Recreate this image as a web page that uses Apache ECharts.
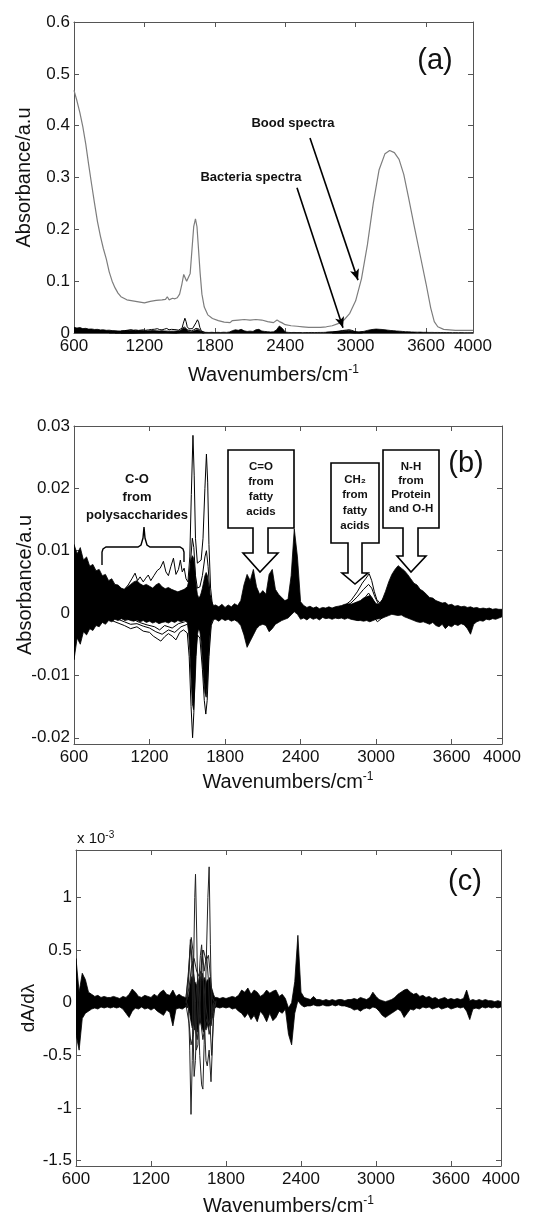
<!DOCTYPE html>
<html>
<head>
<meta charset="utf-8">
<title>FTIR spectra of blood and bacteria</title>
<script src="https://cdn.jsdelivr.net/npm/echarts@6.0.0/dist/echarts.min.js"></script>
<style>
  html, body { margin: 0; padding: 0; background: #fff; }
  #chart { width: 542px; height: 1220px; }
</style>
</head>
<body>
<div id="chart"></div>
<script>
// sampling grid (cm-1) shared by the bacteria envelopes of panels a, b and c
const wavenumbers = [
  600, 625, 650, 675, 700, 725, 750, 775, 800, 825,
  850, 875, 900, 925, 950, 975, 1000, 1025, 1050, 1075,
  1100, 1125, 1150, 1175, 1200, 1225, 1250, 1275, 1300, 1325,
  1350, 1375, 1400, 1425, 1450, 1475, 1500,
  1510, 1520, 1530, 1540, 1550, 1560, 1570, 1580, 1590, 1600,
  1610, 1620, 1630, 1640, 1650, 1660, 1670, 1680, 1690, 1700, 1710,
  1725, 1750, 1775, 1800, 1825, 1850, 1875, 1900, 1925, 1950,
  1975, 2000, 2025, 2050, 2075, 2100, 2125, 2150, 2175, 2200,
  2225, 2250, 2275, 2300, 2325, 2350, 2375, 2400, 2425, 2450,
  2475, 2500, 2525, 2550, 2575, 2600, 2625, 2650, 2675, 2700,
  2725, 2750, 2775, 2800, 2825, 2850, 2875, 2900, 2925, 2950,
  2975, 3000, 3025, 3050, 3075, 3100, 3125, 3150, 3175, 3200,
  3225, 3250, 3275, 3300, 3325, 3350, 3375, 3400, 3425, 3450,
  3475, 3500, 3525, 3550, 3575, 3600, 3625, 3650, 3675, 3700,
  3725, 3750, 3775, 3800, 3825, 3850, 3875, 3900, 3925, 3950,
  3975, 4000
];

// bacteria spectra: upper / lower edge of the dense bundle (absorbance)
const bactHigh = [
  0.0110, 0.0095, 0.0105, 0.0085, 0.0090, 0.0075, 0.0078, 0.0068, 0.0070, 0.0060,
  0.0062, 0.0052, 0.0055, 0.0046, 0.0045, 0.0040, 0.0038, 0.0042, 0.0046, 0.0050,
  0.0052, 0.0047, 0.0044, 0.0046, 0.0043, 0.0040, 0.0045, 0.0048, 0.0042, 0.0039,
  0.0041, 0.0038, 0.0036, 0.0034, 0.0036, 0.0038, 0.0042,
  0.0050, 0.0068, 0.0085, 0.0092, 0.0088, 0.0070, 0.0045, 0.0030, 0.0025, 0.0026,
  0.0032, 0.0040, 0.0050, 0.0060, 0.0065, 0.0060, 0.0045, 0.0030, 0.0020, 0.0015, 0.0012,
  0.0013, 0.0010, 0.0014, 0.0009, 0.0013, 0.0010, 0.0015, 0.0012, 0.0020, 0.0045,
  0.0062, 0.0052, 0.0070, 0.0042, 0.0030, 0.0036, 0.0030, 0.0062, 0.0070, 0.0038,
  0.0030, 0.0025, 0.0020, 0.0022, 0.0060, 0.0135, 0.0090, 0.0018, 0.0012, 0.0009,
  0.0011, 0.0008, 0.0010, 0.0007, 0.0009, 0.0008, 0.0010, 0.0008, 0.0010, 0.0011,
  0.0012, 0.0014, 0.0015, 0.0014, 0.0016, 0.0018, 0.0020, 0.0024, 0.0026, 0.0028,
  0.0022, 0.0015, 0.0014, 0.0022, 0.0035, 0.0050, 0.0062, 0.0070, 0.0076, 0.0072,
  0.0068, 0.0062, 0.0055, 0.0048, 0.0045, 0.0038, 0.0035, 0.0030, 0.0025, 0.0024,
  0.0020, 0.0018, 0.0016, 0.0017, 0.0013, 0.0014, 0.0011, 0.0012, 0.0010, 0.0011,
  0.0009, 0.0010, 0.0008, 0.0009, 0.0007, 0.0008, 0.0007, 0.0008, 0.0006, 0.0007,
  0.0006, 0.0006
];
const bactLow = [
  -0.0075, -0.0040, -0.0050, -0.0030, -0.0035, -0.0025, -0.0028, -0.0020, -0.0022, -0.0015,
  -0.0018, -0.0012, -0.0014, -0.0010, -0.0012, -0.0009, -0.0011, -0.0010, -0.0012, -0.0013,
  -0.0011, -0.0014, -0.0012, -0.0015, -0.0013, -0.0016, -0.0014, -0.0017, -0.0015, -0.0014,
  -0.0016, -0.0013, -0.0015, -0.0012, -0.0014, -0.0012, -0.0015,
  -0.0030, -0.0060, -0.0105, -0.0145, -0.0155, -0.0120, -0.0070, -0.0035, -0.0025, -0.0030,
  -0.0045, -0.0075, -0.0105, -0.0128, -0.0135, -0.0112, -0.0070, -0.0035, -0.0018, -0.0012, -0.0010,
  -0.0010, -0.0013, -0.0009, -0.0012, -0.0010, -0.0013, -0.0011, -0.0014, -0.0020, -0.0035,
  -0.0055, -0.0045, -0.0035, -0.0025, -0.0020, -0.0018, -0.0020, -0.0030, -0.0025, -0.0018,
  -0.0015, -0.0012, -0.0010, -0.0008, -0.0003, 0.0002, -0.0002, -0.0010, -0.0008, -0.0011,
  -0.0007, -0.0010, -0.0008, -0.0011, -0.0007, -0.0009, -0.0008, -0.0010, -0.0008, -0.0009,
  -0.0008, -0.0010, -0.0008, -0.0010, -0.0011, -0.0012, -0.0012, -0.0013, -0.0012, -0.0014,
  -0.0012, -0.0010, -0.0009, -0.0008, -0.0006, -0.0004, -0.0002, -0.0003, -0.0004, -0.0003,
  -0.0006, -0.0008, -0.0010, -0.0012, -0.0014, -0.0015, -0.0014, -0.0016, -0.0018, -0.0015,
  -0.0020, -0.0022, -0.0018, -0.0025, -0.0020, -0.0022, -0.0018, -0.0020, -0.0017, -0.0019,
  -0.0025, -0.0034, -0.0018, -0.0014, -0.0012, -0.0013, -0.0010, -0.0011, -0.0009, -0.0010,
  -0.0008, -0.0006
];

// single spectra that leave the bundle
const sacchTrace = [
  [1000, 0.0038], [1030, 0.0045], [1060, 0.0055], [1085, 0.0064], [1105, 0.0052], [1125, 0.0058],
  [1150, 0.0050], [1170, 0.0056], [1190, 0.0061], [1210, 0.0052], [1235, 0.0060], [1260, 0.0068],
  [1285, 0.0072], [1310, 0.0083], [1330, 0.0066], [1350, 0.0060], [1370, 0.0075], [1390, 0.0088],
  [1410, 0.0062], [1430, 0.0070], [1445, 0.0085], [1460, 0.0066], [1475, 0.0072], [1490, 0.0055],
  [1505, 0.0050], [1520, 0.0090], [1532, 0.0190], [1545, 0.0285], [1555, 0.0220], [1565, 0.0120],
  [1580, 0.0080], [1595, 0.0078], [1610, 0.0085], [1625, 0.0120], [1640, 0.0200], [1652, 0.0255],
  [1662, 0.0210], [1672, 0.0110], [1685, 0.0040], [1700, 0.0012], [1720, 0.0008]
];
const amideTrace = [
  [1490, 0.0030], [1510, 0.0040], [1525, 0.0080], [1540, 0.0120], [1552, 0.0105], [1565, 0.0060],
  [1580, 0.0040], [1600, 0.0042], [1620, 0.0060], [1640, 0.0090], [1652, 0.0100], [1665, 0.0075],
  [1680, 0.0030], [1700, 0.0012]
];
const lowTraceA = [
  [900, -0.0012], [950, -0.0016], [1000, -0.0020], [1050, -0.0025], [1100, -0.0022], [1150, -0.0029],
  [1200, -0.0031], [1230, -0.0037], [1260, -0.0041], [1290, -0.0045], [1320, -0.0038], [1350, -0.0033],
  [1380, -0.0037], [1410, -0.0043], [1440, -0.0031], [1470, -0.0027], [1500, -0.0032], [1515, -0.0070],
  [1530, -0.0150], [1542, -0.0200], [1552, -0.0160], [1565, -0.0070], [1580, -0.0035], [1600, -0.0040],
  [1620, -0.0090], [1635, -0.0140], [1647, -0.0162], [1658, -0.0140], [1672, -0.0070], [1690, -0.0020],
  [1710, -0.0010]
];
const lowTraceB = [
  [950, -0.0010], [1000, -0.0014], [1050, -0.0018], [1100, -0.0017], [1150, -0.0021], [1200, -0.0024],
  [1250, -0.0030], [1300, -0.0034], [1350, -0.0027], [1400, -0.0031], [1450, -0.0022], [1500, -0.0018]
];
const lowTraceC = [
  [1000, -0.0012], [1060, -0.0009], [1120, -0.0015], [1180, -0.0019], [1240, -0.0022], [1280, -0.0027],
  [1320, -0.0020], [1380, -0.0024], [1430, -0.0017], [1480, -0.0014]
];
const ch2TraceA = [
  [2750, 0.0012], [2800, 0.0020], [2850, 0.0034], [2890, 0.0048], [2920, 0.0056], [2945, 0.0063],
  [2965, 0.0052], [2985, 0.0035], [3005, 0.0022], [3030, 0.0016], [3060, 0.0024]
];
const ch2TraceB = [
  [2750, 0.0010], [2800, 0.0016], [2850, 0.0026], [2900, 0.0038], [2940, 0.0046], [2965, 0.0040],
  [2990, 0.0026], [3020, 0.0014], [3060, 0.0018]
];
const ch2TraceC = [
  [2780, 0.0006], [2840, 0.0012], [2900, 0.0022], [2940, 0.0032], [2970, 0.0024], [3000, 0.0008], [3040, 0.0008]
];
const ch2TraceD = [
  [2800, -0.0008], [2860, -0.0012], [2910, -0.0002], [2950, 0.0008], [2980, -0.0006], [3010, -0.0014], [3060, -0.0006]
];

// blood spectrum (panel a)
const bloodSpectrum = [
  [600, 0.468], [625, 0.448], [650, 0.425], [675, 0.398], [700, 0.365], [725, 0.325], [750, 0.287],
  [775, 0.250], [800, 0.215], [825, 0.187], [850, 0.163], [875, 0.143], [900, 0.118], [925, 0.100],
  [950, 0.087], [975, 0.077], [1000, 0.070], [1050, 0.064], [1100, 0.062], [1150, 0.060], [1200, 0.058],
  [1250, 0.061], [1300, 0.063], [1350, 0.064], [1380, 0.065], [1395, 0.070], [1410, 0.064], [1440, 0.067],
  [1460, 0.066], [1480, 0.068], [1500, 0.075], [1520, 0.095], [1535, 0.113], [1545, 0.115], [1560, 0.100],
  [1575, 0.098], [1590, 0.115], [1605, 0.160], [1620, 0.205], [1635, 0.220], [1648, 0.205], [1660, 0.165],
  [1675, 0.115], [1690, 0.075], [1710, 0.050], [1740, 0.035], [1780, 0.028], [1830, 0.024], [1880, 0.021],
  [1930, 0.020], [1950, 0.024], [2000, 0.025], [2050, 0.026], [2100, 0.025], [2150, 0.026], [2200, 0.025],
  [2250, 0.022], [2300, 0.020], [2330, 0.025], [2350, 0.022], [2370, 0.020], [2400, 0.016], [2450, 0.014],
  [2500, 0.013], [2550, 0.012], [2600, 0.011], [2650, 0.011], [2700, 0.011], [2750, 0.012], [2800, 0.014],
  [2850, 0.018], [2900, 0.025], [2950, 0.038], [3000, 0.062], [3050, 0.105], [3100, 0.170], [3150, 0.250],
  [3200, 0.315], [3250, 0.346], [3290, 0.352], [3330, 0.348], [3370, 0.335], [3410, 0.306], [3450, 0.262],
  [3500, 0.205], [3550, 0.150], [3600, 0.095], [3640, 0.048], [3670, 0.022], [3700, 0.012], [3750, 0.007],
  [3800, 0.006], [3850, 0.005], [3900, 0.005], [3950, 0.005], [4000, 0.005]
];

// first derivative (x 10^-3): bundle edges on the same grid
const derivHigh = [
  0.42, 0.10, 0.28, 0.22, 0.10, 0.08, 0.06, 0.07, 0.05, 0.06,
  0.05, 0.05, 0.06, 0.05, 0.04, 0.06, 0.05, 0.08, 0.13, 0.10,
  0.06, 0.05, 0.07, 0.06, 0.05, 0.08, 0.06, 0.10, 0.12, 0.08,
  0.07, 0.12, 0.06, 0.08, 0.06, 0.05, 0.06,
  0.15, 0.25, 0.22, 0.28, 0.20, 0.18, 0.15, 0.20, 0.25, 0.22,
  0.28, 0.20, 0.24, 0.18, 0.22, 0.20, 0.24, 0.16, 0.12, 0.08, 0.05,
  0.05, 0.04, 0.05, 0.04, 0.05, 0.06, 0.05, 0.07, 0.12, 0.10,
  0.14, 0.08, 0.12, 0.10, 0.06, 0.08, 0.12, 0.09, 0.11, 0.12,
  0.06, 0.08, 0.04, -0.05, 0.00, 0.20, 0.64, 0.10, 0.05, 0.04,
  0.03, 0.06, 0.03, 0.03, 0.02, 0.03, 0.02, 0.03, 0.02, 0.03,
  0.03, 0.02, 0.03, 0.03, 0.04, 0.03, 0.05, 0.04, 0.03, 0.05,
  0.10, 0.06, 0.03, 0.02, 0.01, 0.02, 0.03, 0.05, 0.08, 0.10,
  0.12, 0.13, 0.10, 0.08, 0.09, 0.06, 0.07, 0.05, 0.06, 0.04,
  0.05, 0.03, 0.04, 0.05, 0.03, 0.04, 0.03, 0.04, 0.03, 0.04,
  0.12, 0.02, 0.03, 0.02, 0.03, 0.02, 0.03, 0.02, 0.02, 0.01,
  0.02, 0.01
];
const derivLow = [
  -0.30, -0.45, -0.15, -0.10, -0.08, -0.06, -0.05, -0.06, -0.04, -0.05,
  -0.04, -0.05, -0.04, -0.05, -0.04, -0.06, -0.10, -0.14, -0.08, -0.05,
  -0.06, -0.04, -0.06, -0.05, -0.07, -0.05, -0.08, -0.10, -0.12, -0.07,
  -0.09, -0.22, -0.06, -0.05, -0.06, -0.04, -0.05,
  -0.10, -0.18, -0.24, -0.20, -0.26, -0.20, -0.28, -0.22, -0.18, -0.20,
  -0.24, -0.28, -0.22, -0.26, -0.20, -0.25, -0.20, -0.22, -0.15, -0.08, -0.05,
  -0.04, -0.05, -0.04, -0.05, -0.04, -0.06, -0.05, -0.08, -0.10, -0.14,
  -0.10, -0.16, -0.12, -0.18, -0.08, -0.12, -0.18, -0.10, -0.17, -0.14,
  -0.08, -0.10, -0.06, -0.30, -0.40, -0.10, 0.02, -0.02, -0.04, -0.03,
  -0.03, -0.02, -0.03, -0.03, -0.02, -0.03, -0.03, -0.02, -0.03, -0.02,
  -0.03, -0.03, -0.04, -0.05, -0.07, -0.06, -0.08, -0.06, -0.05, -0.06,
  -0.04, -0.05, -0.08, -0.12, -0.14, -0.12, -0.10, -0.08, -0.06, -0.08,
  -0.14, -0.10, -0.06, -0.07, -0.05, -0.06, -0.04, -0.05, -0.04, -0.06,
  -0.05, -0.04, -0.06, -0.05, -0.04, -0.06, -0.05, -0.04, -0.05, -0.04,
  -0.08, -0.16, -0.06, -0.05, -0.06, -0.04, -0.05, -0.04, -0.05, -0.04,
  -0.05, -0.04
];
const swingA = [
  [1480, 0.02], [1500, -0.05], [1510, -0.45], [1520, -1.06], [1530, -0.55], [1540, 0.30], [1550, 1.00],
  [1556, 1.22], [1565, 0.70], [1575, 0.00], [1590, -0.50], [1605, -0.78], [1615, -0.82], [1625, -0.40],
  [1640, 0.30], [1655, 1.00], [1665, 1.29], [1675, 0.55], [1685, -0.10], [1700, -0.05], [1720, 0.00]
];
const swingB = [
  [1480, 0.05], [1500, 0.25], [1515, 0.60], [1525, 0.45], [1535, -0.20], [1545, -0.70], [1555, -0.55],
  [1565, -0.20], [1580, 0.15], [1595, 0.45], [1605, 0.55], [1615, 0.35], [1625, -0.10], [1640, -0.55],
  [1650, -0.60], [1665, -0.45], [1680, -0.75], [1690, -0.45], [1700, -0.10], [1720, 0.02]
];
const swingC = [
  [1480, 0.05], [1500, 0.30], [1515, 0.55], [1530, 0.40], [1545, 0.10], [1555, -0.25], [1570, -0.35],
  [1590, -0.10], [1605, 0.40], [1620, 0.50], [1640, 0.40], [1660, 0.45], [1675, 0.25], [1690, 0.05], [1710, 0.00]
];
const swingD = [
  [1480, -0.02], [1505, -0.20], [1520, -0.40], [1540, -0.30], [1555, 0.00], [1570, 0.20], [1585, 0.05],
  [1600, -0.20], [1615, -0.35], [1635, -0.20], [1650, -0.15], [1665, -0.30], [1680, -0.20], [1700, 0.00]
];
const swingE = [
  [1480, 0.00], [1505, 0.15], [1525, 0.35], [1545, 0.42], [1565, 0.30], [1585, 0.25], [1600, 0.30],
  [1620, 0.20], [1640, -0.05], [1660, -0.20], [1680, -0.15], [1700, 0.00]
];
const swingF = [
  [1490, 0.03], [1510, 0.40], [1522, 0.62], [1535, 0.50], [1550, 0.00], [1562, -0.45], [1575, -0.40],
  [1595, 0.20], [1610, 0.50], [1625, 0.30], [1645, 0.45], [1660, 0.20], [1672, -0.20], [1685, -0.50],
  [1700, -0.15], [1715, 0.00]
];

// tick labels
const xTicks = [600, 1200, 1800, 2400, 3000, 3600, 4000];
const yTicksA = [0, 0.1, 0.2, 0.3, 0.4, 0.5, 0.6];
const yTicksB = [-0.02, -0.01, 0, 0.01, 0.02, 0.03];
const yTicksC = [-1.5, -1, -0.5, 0, 0.5, 1];

const FONT = "'Liberation Sans', Arial, Helvetica, sans-serif";
const AXIS = '#555';
const INK = '#111';

const chart = echarts.init(document.getElementById('chart'));

function xPair(grid, nameGap) {
  const common = {
    type: 'value', gridIndex: grid, min: 600, max: 4000,
    axisLine: { onZero: false, lineStyle: { color: AXIS, width: 1 } },
    axisTick: { inside: true, length: 5, customValues: xTicks, lineStyle: { color: AXIS } },
    splitLine: { show: false }
  };
  return [
    Object.assign({}, common, {
      position: 'bottom',
      axisLabel: { customValues: xTicks, formatter: v => String(v), color: INK, fontSize: 17, fontFamily: FONT, margin: 5 },
      name: 'Wavenumbers/cm{sup|-1}', nameLocation: 'middle', nameGap: nameGap, nameMoveOverlap: false,
      nameTextStyle: {
        color: INK, fontSize: 20, fontFamily: FONT,
        rich: { sup: { fontSize: 12, fontFamily: FONT, color: INK, verticalAlign: 'top', padding: [0, 0, 10, 0] } }
      }
    }),
    Object.assign({}, common, { position: 'top', axisLabel: { show: false } })
  ];
}

function yPair(grid, min, max, ticks, name, nameGap, nameSize) {
  const common = {
    type: 'value', gridIndex: grid, min: min, max: max,
    axisLine: { onZero: false, lineStyle: { color: AXIS, width: 1 } },
    axisTick: { inside: true, length: 5, customValues: ticks, lineStyle: { color: AXIS } },
    splitLine: { show: false }
  };
  return [
    Object.assign({}, common, {
      position: 'left',
      axisLabel: { customValues: ticks, formatter: v => String(v), color: INK, fontSize: 17, fontFamily: FONT, margin: 4 },
      name: name, nameLocation: 'middle', nameGap: nameGap, nameMoveOverlap: false,
      nameTextStyle: { color: INK, fontSize: nameSize, fontFamily: FONT }
    }),
    Object.assign({}, common, { position: 'right', axisLabel: { show: false } })
  ];
}

// dense bundle of spectra: one filled polygon between its lower and upper edge
function band(grid, lo, hi) {
  return {
    type: 'custom', xAxisIndex: grid * 2, yAxisIndex: grid * 2, silent: true, z: 2,
    data: wavenumbers.map((w, i) => [w, lo[i], hi[i]]),
    encode: { x: 0, y: [1, 2] },
    renderItem: function (params, api) {
      if (params.dataIndex !== 0) return null;
      const upper = wavenumbers.map((w, i) => api.coord([w, hi[i]]));
      const lower = wavenumbers.map((w, i) => api.coord([w, lo[i]])).reverse();
      const cs = params.coordSys;
      return {
        type: 'polygon',
        shape: { points: upper.concat(lower) },
        style: { fill: '#000', stroke: '#000', lineWidth: 0.8 },
        clipPath: { type: 'rect', shape: { x: cs.x, y: cs.y, width: cs.width, height: cs.height } }
      };
    }
  };
}

function trace(grid, pts, color, width) {
  return {
    type: 'line', xAxisIndex: grid * 2, yAxisIndex: grid * 2, data: pts, z: 3,
    symbol: 'none', silent: true, lineStyle: { color: color || '#000', width: width || 1 }
  };
}

const bactTraces = [sacchTrace, amideTrace, lowTraceA, lowTraceB, lowTraceC, ch2TraceA, ch2TraceB, ch2TraceC, ch2TraceD];
const derivTraces = [swingA, swingB, swingC, swingD, swingE, swingF];

const series = [];
// panel a: bacteria near zero, blood spectrum in grey
series.push(band(0, bactLow, bactHigh));
bactTraces.forEach(t => series.push(trace(0, t, '#000', 1)));
series.push(Object.assign(trace(0, bloodSpectrum, '#7d7d7d', 1.2), {
  markLine: {
    silent: true, symbol: ['none', 'arrow'], symbolSize: [7, 11], animation: false,
    label: { show: false },
    lineStyle: { color: '#000', width: 1.6, type: 'solid' },
    data: [
      [{ coord: [2611, 0.376] }, { coord: [3020, 0.102] }],
      [{ coord: [2500, 0.280] }, { coord: [2892, 0.010] }]
    ]
  }
}));
// panel b
series.push(band(1, bactLow, bactHigh));
bactTraces.forEach(t => series.push(trace(1, t, '#000', 1)));
// panel c
series.push(band(2, derivLow, derivHigh));
derivTraces.forEach(t => series.push(trace(2, t, '#222', 1)));

function callout(box, stem, head, tip) {
  // box [l, t, r, b], stem [l, r, bottom], head [l, r], tip [x, y]
  return {
    type: 'polygon', z: 100,
    shape: { points: [
      [box[0], box[1]], [box[2], box[1]], [box[2], box[3]], [stem[1], box[3]], [stem[1], stem[2]],
      [head[1], stem[2]], tip, [head[0], stem[2]], [stem[0], stem[2]], [stem[0], box[3]], [box[0], box[3]]
    ] },
    style: { fill: '#fff', stroke: '#000', lineWidth: 1.6 }
  };
}
function label(x, y, text, size, weight, extra) {
  return {
    type: 'text', z: 101, x: x, y: y,
    style: Object.assign({
      text: text, fontSize: size, fontWeight: weight || 'normal', fontFamily: FONT, fill: INK,
      align: 'center', verticalAlign: 'middle'
    }, extra || {})
  };
}

const graphic = [
  label(435, 61, '(a)', 29),
  label(466, 464, '(b)', 29),
  label(465, 882, '(c)', 29),
  label(293, 123, 'Bood spectra', 13, 'bold'),
  label(251, 177, 'Bacteria spectra', 13, 'bold'),
  label(137, 497, 'C-O\nfrom\npolysaccharides', 13, 'bold', { lineHeight: 18 }),
  {
    type: 'polyline', z: 100,
    shape: { points: [[102, 565], [102, 552], [103, 549], [106, 547], [138, 547], [141, 545], [143, 538], [144, 527],
      [145, 538], [147, 545], [150, 547], [180, 547], [183, 549], [184, 552], [184, 562]] },
    style: { stroke: '#000', lineWidth: 1.4, fill: null }
  },
  callout([228, 450, 294, 528], [253, 268, 553], [243, 278], [260, 572]),
  label(261, 489, 'C=O\nfrom\nfatty\nacids', 11.5, 'bold', { lineHeight: 15 }),
  callout([331, 463, 379, 543], [348, 362, 573], [342, 368], [355, 584]),
  label(355, 503, 'CH\u2082\nfrom\nfatty\nacids', 11.5, 'bold', { lineHeight: 15.5 }),
  callout([383, 450, 439, 528], [403, 418, 556], [397, 426], [411, 572]),
  label(411, 488, 'N-H\nfrom\nProtein\nand O-H', 11.5, 'bold', { lineHeight: 14 }),
  label(77, 839, 'x 10{sup|-3}', 15, 'normal', {
    align: 'left',
    rich: { sup: { fontSize: 10, fontFamily: FONT, fill: INK, verticalAlign: 'top', padding: [0, 0, 8, 0] } }
  })
];

const gridBase = { containLabel: false, outerBoundsMode: 'none' };

chart.setOption({
  animation: false,
  backgroundColor: '#fff',
  grid: [
    Object.assign({ left: 74, top: 22, width: 399, height: 311 }, gridBase),
    Object.assign({ left: 74, top: 426, width: 428, height: 318 }, gridBase),
    Object.assign({ left: 76, top: 850, width: 425, height: 316 }, gridBase)
  ],
  xAxis: [...xPair(0, 31), ...xPair(1, 27), ...xPair(2, 29)],
  yAxis: [
    ...yPair(0, 0, 0.6, yTicksA, 'Absorbance/a.u', 40, 20),
    ...yPair(1, -0.021, 0.03, yTicksB, 'Absorbance/a.u', 39, 20),
    ...yPair(2, -1.55, 1.45, yTicksC, 'dA/d\u03bb', 38, 19)
  ],
  series: series,
  graphic: graphic
});
</script>
</body>
</html>
